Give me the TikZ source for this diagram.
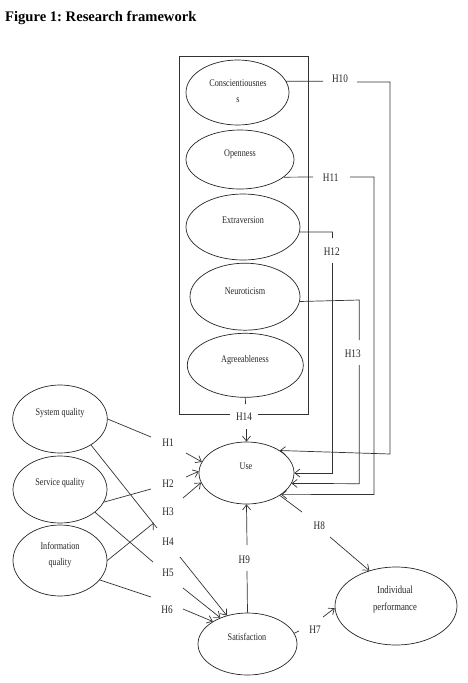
\documentclass[tikz,border=0pt]{standalone}
\usepackage{fontspec}
\usetikzlibrary{shapes.geometric,arrows.meta}
\newfontfamily\figfont[FakeStretch=0.8]{Liberation Serif}
\newfontfamily\titlefont{Liberation Serif}
\frenchspacing
\begin{document}
\begin{tikzpicture}[x=1pt,y=-1pt,
  ell/.style={draw=black!85, line width=0.7pt, ellipse, inner sep=0pt},
  et/.style={font=\figfont\fontsize{10.2}{16}\selectfont, inner sep=0pt, text height=7pt, text depth=0pt, text=black!85},
  et2/.style={font=\figfont\fontsize{10.2}{16}\selectfont, inner sep=0pt, align=center, text=black!85},
  hl/.style={font=\figfont\fontsize{11.5}{14}\selectfont, inner sep=0pt, text height=8pt, text depth=0pt, text=black!85},
  ln/.style={draw=black!80, line width=0.7pt},
  arr/.style={ln, -{Straight Barb[length=5pt,width=8pt]}}]
\useasboundingbox[fill=white] (0,0) rectangle (467,683);

\node[anchor=base west, inner sep=0pt, font=\titlefont\bfseries\fontsize{14.6}{17}\selectfont] (title) at (5,21) {Figure 1: Research framework};

% personality box
\node[draw=black!80, line width=0.7pt, minimum width=129pt, minimum height=358pt, inner sep=0pt] (box) at (243.8,235) {};

% ellipses
\node[ell, minimum width=103pt, minimum height=65pt] (consc) at (237.5,92.5) {};
\node[ell, minimum width=108pt, minimum height=59pt] (open) at (240,159.5) {};
\node[ell, minimum width=114pt, minimum height=66pt] (extra) at (243,227) {};
\node[ell, minimum width=110pt, minimum height=67pt] (neuro) at (245,296.7) {};
\node[ell, minimum width=116pt, minimum height=64pt] (agree) at (245.3,365.3) {};
\node[ell, minimum width=94.6pt, minimum height=68pt] (sysq) at (60,419) {};
\node[ell, minimum width=94pt, minimum height=67pt] (servq) at (60,489.5) {};
\node[ell, minimum width=94pt, minimum height=71pt] (infoq) at (60,560.5) {};
\node[ell, minimum width=95pt, minimum height=62pt] (use) at (246.5,473) {};
\node[ell, minimum width=99pt, minimum height=62pt] (satis) at (247.5,644) {};
\node[ell, minimum width=122pt, minimum height=78pt] (indiv) at (396,606) {};

% ellipse texts
\node[et2] (tconsc) at (238,91) {Conscientiousnes\\s};
\node[et] (topen) at (240,153) {Openness};
\node[et] (textra) at (243,220) {Extraversion};
\node[et] (tneuro) at (245,291) {Neuroticism};
\node[et] (tagree) at (245,359) {Agreeableness};
\node[et] (tsysq) at (60,412) {System quality};
\node[et] (tservq) at (60,482) {Service quality};
\node[et2] (tinfoq) at (60,555.5) {Information\\quality};
\node[et] (tuse) at (246,466) {Use};
\node[et] (tsatis) at (247,637) {Satisfaction};
\node[et2,font=\figfont\fontsize{10.8}{17}\selectfont] (tindiv) at (395,599.5) {Individual\\performance};

% hypothesis labels
\node[hl] (h1) at (168,442.5) {H1};
\node[hl] (h2) at (168,483.3) {H2};
\node[hl] (h3) at (168,511.7) {H3};
\node[hl] (h4) at (168,541.7) {H4};
\node[hl] (h5) at (168,572.7) {H5};
\node[hl] (h6) at (167,609.3) {H6};
\node[hl] (h7) at (315,629.5) {H7};
\node[hl] (h8) at (319.3,525.7) {H8};
\node[hl] (h9) at (244.3,559) {H9};
\node[hl] (h10) at (340,78.3) {H10};
\node[hl] (h11) at (330.7,177.7) {H11};
\node[hl] (h12) at (331.7,251.7) {H12};
\node[hl] (h13) at (352.7,353.3) {H13};
\node[hl, fill=white, inner xsep=6pt, inner ysep=2pt] (h14) at (244,416.7) {H14};

% waypoints
\coordinate (h1a) at (151,437);   \coordinate (h1b) at (186,453);
\coordinate (h2a) at (151,489);   \coordinate (h2b) at (186,477);
\coordinate (h3a) at (153.3,523.3); \coordinate (h3t) at (153.3,530); \coordinate (h3b) at (183,498);
\coordinate (h4a) at (157,528);   \coordinate (h4b) at (180,557);
\coordinate (h5a) at (153,562);   \coordinate (h5b) at (183,588);
\coordinate (h6a) at (151,597);   \coordinate (h6b) at (183,609);
\coordinate (h7a) at (299,631);   \coordinate (h7b) at (323,617);
\coordinate (h8a) at (302,512);   \coordinate (h8b) at (330,537);
\coordinate (h9a) at (247,571);   \coordinate (h9b) at (247,545);
\coordinate (h10a) at (323,81.3); \coordinate (h10b) at (357,82); \coordinate (h10c) at (390,82); \coordinate (h10d) at (390,454);
\coordinate (h11a) at (313,177);  \coordinate (h11b) at (350,177); \coordinate (h11c) at (374,177); \coordinate (h11d) at (374,494.5);
\coordinate (h12a) at (332.5,232); \coordinate (h12b) at (332.5,238); \coordinate (h12c) at (332.5,262.5); \coordinate (h12d) at (332.5,473);
\coordinate (h13a) at (359.3,300); \coordinate (h13b) at (359.3,340); \coordinate (h13c) at (359.3,365); \coordinate (h13d) at (359.3,483.7);
\coordinate (h14t) at (245.5,404); \coordinate (h14b) at (246.5,429);

% left side connectors
\draw[ln] (sysq.0) -- (h1a);
\draw[arr] (h1b) -- (use.166.7);
\draw[ln] (servq.-16) -- (h2a);
\draw[arr] (h2b) -- (use.178.8);
\draw[ln] (infoq.0) -- (h3a) -- (h3t);
\draw[arr] (h3b) -- (use.192.7);
\draw[ln] (sysq.-40) -- (h4a);
\draw[arr] (h4b) -- (satis.126.6);
\draw[ln] (servq.-33) -- (h5a);
\draw[arr] (h5b) -- (satis.136.6);
\draw[ln] (infoq.-26) -- (h6a);
\draw[arr] (h6b) -- (satis.147.5);

% outcome connectors
\draw[ln] (satis.13) -- (h7a);
\draw[arr] (h7b) -- (indiv.182);
\draw[ln] (use.-34) -- (h8a);
\draw[arr] (h8b) -- (indiv.127);
\draw[ln] (satis.north) -- (h9a);
\draw[arr] (h9b) -- (use.south);

% personality connectors
\draw[ln] (consc.13) -- (h10a);
\draw[arr] (h10b) -- (h10c) -- (h10d) -- (use.34.5);
\draw[ln] (open.-22) -- (h11a);
\draw[arr] (h11b) -- (h11c) -- (h11d) -- (use.-32);
\draw[ln] (extra.-5) -- (h12a) -- (h12b);
\draw[arr] (h12c) -- (h12d) -- (use.0);
\draw[ln] (neuro.-5) -- (h13a) -- (h13b);
\draw[arr] (h13c) -- (h13d) -- (use.-13.5);
\draw[ln] (agree.south) -- (h14t);
\draw[arr] (h14b) -- (use.north);
\end{tikzpicture}
\end{document}
